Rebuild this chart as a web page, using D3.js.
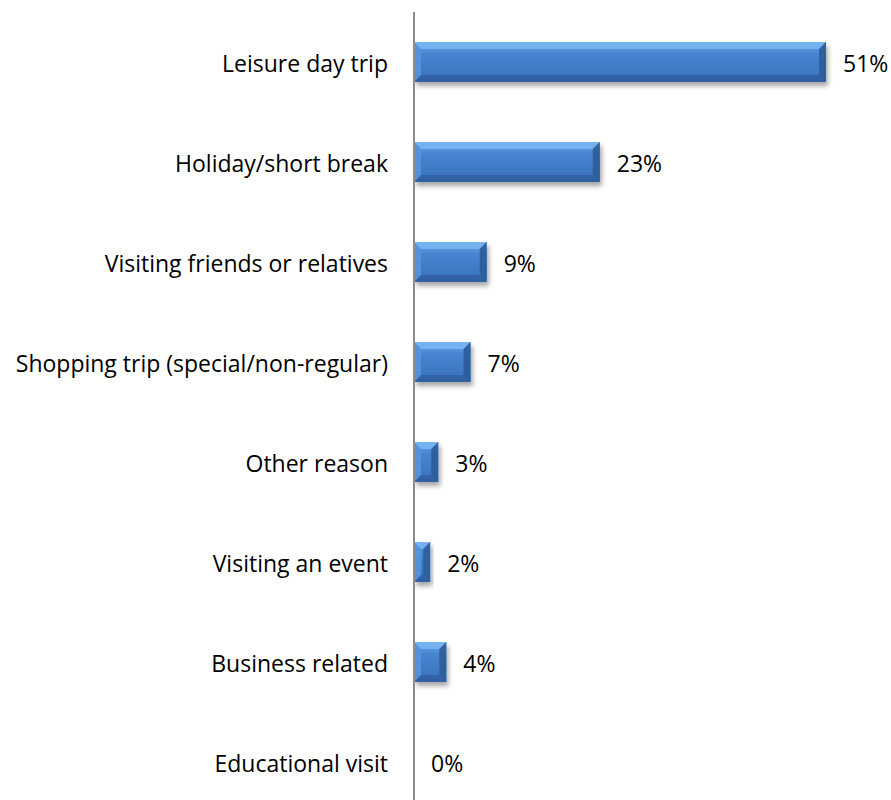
<!DOCTYPE html>
<html><head><meta charset="utf-8">
<script src="https://cdn.jsdelivr.net/npm/d3@7"></script>
<style>body{margin:0;background:#fff}svg{display:block}</style>
</head><body>
<script>
const categories = ["Leisure day trip","Holiday/short break","Visiting friends or relatives","Shopping trip (special/non-regular)","Other reason","Visiting an event","Business related","Educational visit"];
const values = [51,23,9,7,3,2,4,0];
const valueLabels = ["51%","23%","9%","7%","3%","2%","4%","0%"];

const W=891,H=800;
const svg=d3.select("body").append("svg").attr("width",W).attr("height",H);
const defs=svg.append("defs");
const g1=defs.append("linearGradient").attr("id","bg").attr("x1",0).attr("y1",0).attr("x2",0).attr("y2",1);
[[0,"#6aa6e8"],[0.3,"#4685d2"],[1,"#3a71ba"]].forEach(s=>g1.append("stop").attr("offset",s[0]).attr("stop-color",s[1]));
const f=defs.append("filter").attr("id","sh").attr("x","-10%").attr("y","-20%").attr("width","130%").attr("height","160%");
f.append("feGaussianBlur").attr("in","SourceAlpha").attr("stdDeviation",2.5);
f.append("feOffset").attr("dx",2).attr("dy",4).attr("result","ob");
f.append("feComponentTransfer").append("feFuncA").attr("type","linear").attr("slope",0.35);
const m=f.append("feMerge");m.append("feMergeNode");m.append("feMergeNode").attr("in","SourceGraphic");

const x0=414;
const x=d3.scaleLinear().domain([0,51]).range([x0,826]);
const y=d3.scaleBand().domain(categories).range([12,812]).paddingInner(0.6).paddingOuter(0.3);
const font="'Open Sans', sans-serif";
const fs=23;

const bars=svg.append("g");
categories.forEach((c,i)=>{
  const v=values[i]; if(v<=0) return;
  const bx=x(0), bw=x(v)-x(0), by=y(c), bh=y.bandwidth();
  const gg=bars.append("g").attr("filter","url(#sh)");
  gg.append("rect").attr("x",bx).attr("y",by).attr("width",bw).attr("height",bh).attr("fill","url(#bg)");
  const b=Math.min(7,bw/2);
  gg.append("polygon").attr("points",`${bx},${by} ${bx+bw},${by} ${bx+bw-b},${by+b} ${bx+b},${by+b}`).attr("fill","#7ab5f2").attr("opacity",0.85);
  gg.append("polygon").attr("points",`${bx},${by+bh} ${bx+bw},${by+bh} ${bx+bw-b},${by+bh-b} ${bx+b},${by+bh-b}`).attr("fill","#2e5f9f").attr("opacity",0.85);
  gg.append("polygon").attr("points",`${bx},${by} ${bx+b},${by+b} ${bx+b},${by+bh-b} ${bx},${by+bh}`).attr("fill","#5593dc").attr("opacity",0.9);
  gg.append("polygon").attr("points",`${bx+bw},${by} ${bx+bw-b},${by+b} ${bx+bw-b},${by+bh-b} ${bx+bw},${by+bh}`).attr("fill","#2d5c99").attr("opacity",0.9);
});

svg.append("line").attr("x1",x0).attr("x2",x0).attr("y1",12).attr("y2",H).attr("stroke","#8c8c8c").attr("stroke-width",2);

svg.append("g").selectAll("text").data(categories).join("text")
  .attr("x",388).attr("y",c=>y(c)+y.bandwidth()/2+2).attr("dy","0.35em")
  .attr("text-anchor","end").attr("font-family",font).attr("font-size",fs).attr("fill","#000")
  .text(d=>d);

svg.append("g").selectAll("text").data(categories).join("text")
  .attr("x",(c,i)=>x(values[i])+17).attr("y",c=>y(c)+y.bandwidth()/2+2).attr("dy","0.35em")
  .attr("font-family",font).attr("font-size",fs).attr("fill","#000")
  .text((c,i)=>valueLabels[i]);
</script>
</body></html>
